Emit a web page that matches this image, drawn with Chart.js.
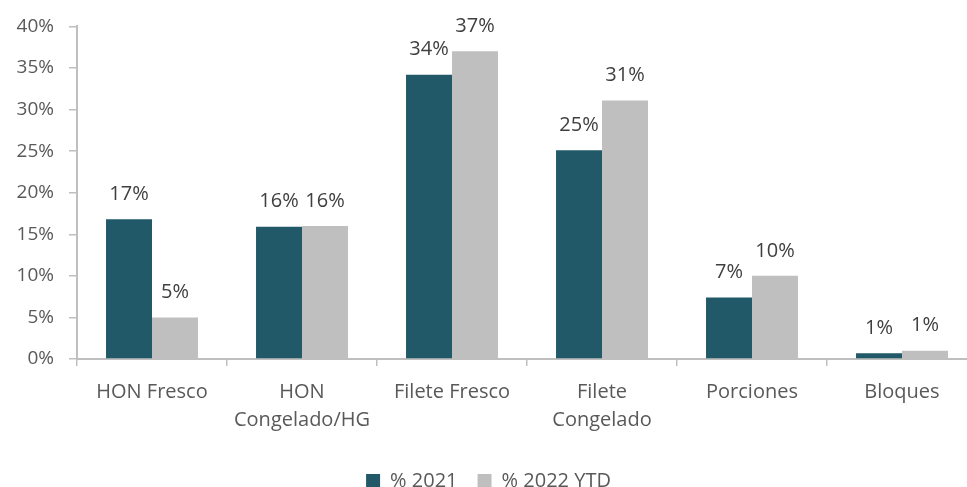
<!DOCTYPE html>
<html>
<head>
<meta charset="utf-8">
<script src="https://cdn.jsdelivr.net/npm/chart.js@4"></script>
<style>
  html, body { margin: 0; padding: 0; background: #fff; overflow: hidden; }
  #wrap { width: 1022px; height: 487px; position: relative; }
</style>
</head>
<body>
<div id="wrap"><canvas id="chart"></canvas></div>
<script>
// Categories (multi-line labels as arrays)
const categories = [
    'HON Fresco',
    ['HON', 'Congelado/HG'],
    'Filete Fresco',
    ['Filete', 'Congelado'],
    'Porciones',
    'Bloques'
];

// Series values in percent
const values2021 = [16.8, 15.9, 34.2, 25.1, 7.4, 0.7];
const values2022 = [5.0, 16.0, 37.0, 31.1, 10.0, 1.0];

const seriesNames = ['% 2021', '% 2022 YTD'];
const FONT = "'Open Sans', 'Noto Sans', sans-serif";

// Draw value labels above each bar
const valueLabels = {
    id: 'valueLabels',
    afterDatasetsDraw(chart) {
        const ctx = chart.ctx;
        ctx.save();
        ctx.font = `20px ${FONT}`;
        ctx.fillStyle = '#404040';
        ctx.textAlign = 'center';
        ctx.textBaseline = 'middle';
        chart.data.datasets.forEach((ds, i) => {
            const meta = chart.getDatasetMeta(i);
            meta.data.forEach((bar, j) => {
                ctx.fillText(Math.round(ds.data[j]) + '%', bar.x, bar.y - 25);
            });
        });
        ctx.restore();
    }
};

// Push the legend a bit lower, closer to the bottom edge
const legendShift = {
    id: 'legendShift',
    afterLayout(chart) {
        if (chart.legend) {
            chart.legend.top += 14;
            chart.legend.bottom += 14;
        }
    }
};

const ctx = document.getElementById('chart').getContext('2d');
new Chart(ctx, {
    type: 'bar',
    data: {
        labels: categories,
        datasets: [
            { label: seriesNames[0], data: values2021, backgroundColor: '#215968', barPercentage: 1, categoryPercentage: 0.613 },
            { label: seriesNames[1], data: values2022, backgroundColor: '#bfbfbf', barPercentage: 1, categoryPercentage: 0.613 }
        ]
    },
    options: {
        responsive: true,
        maintainAspectRatio: false,
        animation: false,
        layout: { padding: { top: 11, right: 45, left: 0, bottom: 0 } },
        scales: {
            x: {
                grid: { drawOnChartArea: false, color: '#bfbfbf', tickLength: 7, lineWidth: 1.5 },
                border: { color: '#bfbfbf', width: 2 },
                ticks: { color: '#595959', font: { family: FONT, size: 20, lineHeight: 1.4 }, padding: 12, maxRotation: 0, autoSkip: false },
                afterFit: scale => { scale.height = 78; }
            },
            y: {
                min: 0,
                max: 40,
                grid: { drawOnChartArea: false, color: '#bfbfbf', tickLength: 8, lineWidth: 1.5 },
                border: { color: '#bfbfbf', width: 2 },
                ticks: { stepSize: 5, color: '#595959', font: { family: FONT, size: 19 }, padding: 15, callback: v => v + '%' },
                afterFit: scale => { scale.width = 77; }
            }
        },
        plugins: {
            legend: {
                position: 'bottom',
                labels: { color: '#595959', font: { family: FONT, size: 20 }, boxWidth: 14, boxHeight: 14, padding: 20 }
            },
            tooltip: { enabled: false }
        }
    },
    plugins: [valueLabels, legendShift]
});
</script>
</body>
</html>
